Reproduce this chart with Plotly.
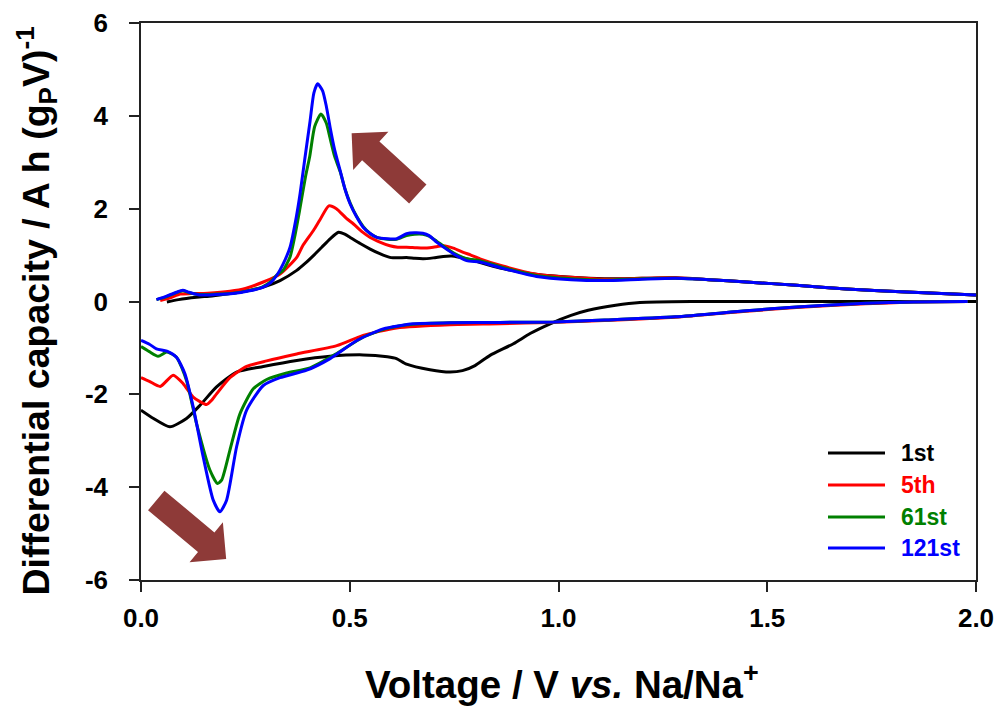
import plotly.graph_objects as go

# ---- data: differential capacity (A h (gP V)^-1) vs voltage (V vs. Na/Na+) ----
CYCLES = ["1st", "5th", "61st", "121st"]
COLORS = ["#000000", "#ff0000", "#008000", "#0000ff"]

# discharge (sodiation) branches
V_DIS_1ST = [0.0, 0.03, 0.069, 0.109, 0.141, 0.181, 0.229, 0.293, 0.373, 0.453, 0.532, 0.59,
             0.612, 0.636, 0.692, 0.74, 0.77, 0.80, 0.836, 0.892, 0.932, 0.98, 1.03, 1.071,
             1.137, 1.195, 1.32, 1.5, 1.7, 2.0]
C_DIS_1ST = [-2.34, -2.52, -2.70, -2.52, -2.24, -1.84, -1.52, -1.40, -1.27, -1.18, -1.15, -1.19,
             -1.23, -1.35, -1.47, -1.52, -1.49, -1.38, -1.16, -0.91, -0.69, -0.48, -0.30, -0.19,
             -0.08, -0.02, 0.0, 0.0, 0.0, 0.0]

V_DIS_5TH = [0.0, 0.02, 0.046, 0.077, 0.101, 0.125, 0.157, 0.170, 0.181, 0.213, 0.253, 0.301,
             0.373, 0.469, 0.532, 0.612, 0.74, 0.86, 0.98, 1.11, 1.28, 1.45, 1.57, 1.735, 1.85, 1.98]
C_DIS_5TH = [-1.64, -1.72, -1.83, -1.59, -1.77, -2.06, -2.22, -2.12, -1.99, -1.64, -1.40, -1.28,
             -1.13, -0.95, -0.73, -0.57, -0.50, -0.48, -0.45, -0.41, -0.34, -0.21, -0.13, -0.05,
             -0.01, 0.0]

V_DIS_61ST = [0.0, 0.02, 0.041, 0.062, 0.085, 0.109, 0.133, 0.165, 0.183, 0.193, 0.213, 0.237,
              0.269, 0.301, 0.349, 0.405, 0.469, 0.532, 0.59, 0.652, 0.74, 0.86, 0.99, 1.11, 1.28,
              1.45, 1.57, 1.735, 1.85, 1.98]
C_DIS_61ST = [-0.97, -1.08, -1.18, -1.09, -1.20, -1.70, -2.63, -3.63, -3.92, -3.85, -3.20, -2.42,
              -1.88, -1.68, -1.54, -1.43, -1.12, -0.77, -0.58, -0.49, -0.46, -0.45, -0.44, -0.40,
              -0.33, -0.20, -0.12, -0.04, -0.01, 0.0]

V_DIS_121ST = [0.0, 0.02, 0.037, 0.062, 0.085, 0.105, 0.125, 0.149, 0.173, 0.189, 0.205, 0.229,
               0.253, 0.293, 0.333, 0.397, 0.453, 0.517, 0.580, 0.652, 0.74, 0.86, 0.99, 1.11,
               1.28, 1.45, 1.57, 1.735, 1.85, 1.98]
C_DIS_121ST = [-0.84, -0.92, -1.02, -1.07, -1.20, -1.55, -2.27, -3.35, -4.28, -4.53, -4.28, -3.13,
               -2.34, -1.81, -1.64, -1.48, -1.23, -0.84, -0.59, -0.48, -0.46, -0.45, -0.44, -0.40,
               -0.33, -0.20, -0.12, -0.04, -0.01, 0.0]

# charge (desodiation) branches
V_CHG_1ST = [0.062, 0.09, 0.133, 0.17, 0.213, 0.25, 0.293, 0.333, 0.373, 0.393, 0.413, 0.433,
             0.453, 0.473, 0.488, 0.501, 0.525, 0.549, 0.572, 0.596, 0.616, 0.636, 0.656, 0.676,
             0.70, 0.724, 0.744, 0.764, 0.79, 0.812, 0.86, 0.95, 1.03, 1.11, 1.2, 1.28, 1.36,
             1.45, 1.57, 1.69, 1.82, 2.0]
C_CHG_1ST = [-0.01, 0.04, 0.09, 0.12, 0.17, 0.22, 0.31, 0.45, 0.67, 0.82, 0.99, 1.17,
             1.35, 1.49, 1.45, 1.38, 1.25, 1.13, 1.03, 0.95, 0.94, 0.95, 0.93, 0.92,
             0.94, 0.97, 0.98, 0.95, 0.90, 0.84, 0.72, 0.58, 0.52, 0.49, 0.50, 0.51, 0.47,
             0.42, 0.35, 0.27, 0.21, 0.14]

V_CHG_5TH = [0.046, 0.07, 0.094, 0.12, 0.16, 0.213, 0.25, 0.293, 0.333, 0.373, 0.388, 0.413,
             0.428, 0.450, 0.468, 0.492, 0.509, 0.53, 0.549, 0.575, 0.596, 0.615, 0.636, 0.656,
             0.676, 0.70, 0.724, 0.748, 0.772, 0.79, 0.812, 0.864, 0.947, 1.03, 1.11, 1.2, 1.28,
             1.36, 1.45, 1.57, 1.69, 1.82, 2.0]
C_CHG_5TH = [0.02, 0.08, 0.16, 0.17, 0.18, 0.22, 0.28, 0.42, 0.59, 0.95, 1.21, 1.53,
             1.75, 2.06, 2.00, 1.79, 1.67, 1.50, 1.38, 1.27, 1.20, 1.17, 1.17, 1.16,
             1.15, 1.17, 1.20, 1.15, 1.06, 1.00, 0.92, 0.77, 0.59, 0.52, 0.48, 0.50, 0.51,
             0.47, 0.42, 0.35, 0.27, 0.21, 0.14]

V_CHG_61ST = [0.037, 0.06, 0.085, 0.10, 0.115, 0.14, 0.18, 0.22, 0.26, 0.29, 0.31, 0.325, 0.34,
              0.357, 0.368, 0.380, 0.394, 0.404, 0.416, 0.431, 0.444, 0.452, 0.464, 0.477, 0.488,
              0.501, 0.516, 0.532, 0.548, 0.565, 0.59, 0.612, 0.636, 0.655, 0.675, 0.69, 0.708,
              0.728, 0.748, 0.78, 0.812, 0.864, 0.947, 1.03, 1.11, 1.2, 1.28, 1.36, 1.45, 1.57,
              1.69, 1.82, 2.0]
C_CHG_61ST = [0.04, 0.10, 0.19, 0.23, 0.19, 0.15, 0.16, 0.18, 0.24, 0.31, 0.42, 0.57, 0.67,
              0.96, 1.39, 1.97, 2.69, 3.12, 3.77, 4.04, 3.84, 3.55, 3.12, 2.80, 2.44,
              2.12, 1.84, 1.62, 1.47, 1.38, 1.34, 1.34, 1.42, 1.45, 1.45, 1.41, 1.30,
              1.17, 1.05, 0.92, 0.88, 0.74, 0.56, 0.49, 0.46, 0.49, 0.50, 0.47, 0.42, 0.35,
              0.27, 0.21, 0.14]

V_CHG_121ST = [0.037, 0.06, 0.085, 0.10, 0.115, 0.14, 0.18, 0.22, 0.26, 0.29, 0.31, 0.325, 0.34,
               0.357, 0.372, 0.381, 0.392, 0.405, 0.414, 0.423, 0.435, 0.444, 0.453, 0.464, 0.477,
               0.488, 0.501, 0.516, 0.532, 0.548, 0.565, 0.59, 0.612, 0.636, 0.655, 0.675, 0.69,
               0.708, 0.728, 0.748, 0.78, 0.812, 0.864, 0.947, 1.03, 1.11, 1.2, 1.28, 1.36, 1.45,
               1.57, 1.69, 1.82, 2.0]
C_CHG_121ST = [0.04, 0.11, 0.20, 0.24, 0.20, 0.14, 0.15, 0.17, 0.23, 0.30, 0.40, 0.56, 0.80,
               1.17, 1.82, 2.32, 3.05, 3.89, 4.49, 4.69, 4.54, 4.20, 3.75, 3.26, 2.82,
               2.44, 2.10, 1.83, 1.60, 1.47, 1.38, 1.35, 1.35, 1.46, 1.48, 1.47, 1.42,
               1.28, 1.15, 1.03, 0.88, 0.85, 0.72, 0.54, 0.47, 0.45, 0.48, 0.50, 0.47, 0.42,
               0.35, 0.27, 0.21, 0.14]

V_DIS = [V_DIS_1ST, V_DIS_5TH, V_DIS_61ST, V_DIS_121ST]
C_DIS = [C_DIS_1ST, C_DIS_5TH, C_DIS_61ST, C_DIS_121ST]
V_CHG = [V_CHG_1ST, V_CHG_5TH, V_CHG_61ST, V_CHG_121ST]
C_CHG = [C_CHG_1ST, C_CHG_5TH, C_CHG_61ST, C_CHG_121ST]

X_RANGE = [0, 2]
Y_RANGE = [-6, 6]
X_TICKS = [0.0, 0.5, 1.0, 1.5, 2.0]
X_TICKTEXT = ["0.0", "0.5", "1.0", "1.5", "2.0"]
Y_TICKS = [-6, -4, -2, 0, 2, 4, 6]
Y_TICKTEXT = ["-6", "-4", "-2", "0", "2", "4", "6"]

# trend arrows (tail -> tip, data coordinates)
ARROW_CHARGE = ((0.663, 2.315), (0.5045, 3.625))
ARROW_DISCHARGE = ((0.0365, -4.287), (0.204, -5.545))
ARROW_COLOR = "#8e3a38"

# ---- page geometry ----
W, H = 999, 711
M_L, M_R, M_T, M_B = 141, 23, 23, 131
PLOT_W = W - M_L - M_R
PLOT_H = H - M_T - M_B
PX_PER_X = PLOT_W / (X_RANGE[1] - X_RANGE[0])
PX_PER_Y = PLOT_H / (Y_RANGE[1] - Y_RANGE[0])

FONT = "Liberation Sans, Arial, sans-serif"

fig = go.Figure()

for name, color, vd, cd, vc, cc in zip(CYCLES, COLORS, V_DIS, C_DIS, V_CHG, C_CHG):
    fig.add_trace(go.Scatter(
        x=vd + [None] + vc,
        y=cd + [None] + cc,
        mode="lines",
        name=name,
        line=dict(color=color, width=3, shape="spline", smoothing=0.6),
        connectgaps=False,
        showlegend=False,
    ))


def block_arrow(tail, tip, shaft_half=12.8, head_half=26.0, head_len=26.0):
    """Filled block arrow built in pixel space, returned as an SVG path in data units."""
    tx, ty = tail[0] * PX_PER_X, tail[1] * PX_PER_Y
    hx, hy = tip[0] * PX_PER_X, tip[1] * PX_PER_Y
    dx, dy = hx - tx, hy - ty
    length = (dx * dx + dy * dy) ** 0.5
    ux, uy = dx / length, dy / length
    nx, ny = -uy, ux
    bx, by = hx - ux * head_len, hy - uy * head_len
    pts = [
        (tx + nx * shaft_half, ty + ny * shaft_half),
        (bx + nx * shaft_half, by + ny * shaft_half),
        (bx + nx * head_half, by + ny * head_half),
        (hx, hy),
        (bx - nx * head_half, by - ny * head_half),
        (bx - nx * shaft_half, by - ny * shaft_half),
        (tx - nx * shaft_half, ty - ny * shaft_half),
    ]
    pts = [(px / PX_PER_X, py / PX_PER_Y) for px, py in pts]
    return "M " + " L ".join(f"{x:.5f},{y:.5f}" for x, y in pts) + " Z"


for tail, tip in (ARROW_CHARGE, ARROW_DISCHARGE):
    fig.add_shape(type="path", xref="x", yref="y", path=block_arrow(tail, tip),
                  fillcolor=ARROW_COLOR, line=dict(width=0), layer="above")

# ---- legend drawn as line samples plus coloured labels ----
LEG_X0, LEG_X1, LEG_TX = 828, 885, 899
LEG_Y = [453, 485, 517, 548]


def px_to_paper_x(px):
    return (px - M_L) / PLOT_W


def px_to_paper_y(py):
    return 1 - (py - M_T) / PLOT_H


for name, color, ly in zip(CYCLES, COLORS, LEG_Y):
    fig.add_shape(type="line", xref="paper", yref="paper",
                  x0=px_to_paper_x(LEG_X0), x1=px_to_paper_x(LEG_X1),
                  y0=px_to_paper_y(ly), y1=px_to_paper_y(ly),
                  line=dict(color=color, width=3))
    fig.add_annotation(xref="paper", yref="paper", x=px_to_paper_x(LEG_TX), y=px_to_paper_y(ly),
                       xanchor="left", yanchor="middle", text=name, showarrow=False,
                       font=dict(family=FONT, size=23, color=color, weight="bold"))

# ---- axis titles ----
fig.add_annotation(xref="paper", yref="paper", x=0.5, y=0, xanchor="center", yanchor="middle",
                   yshift=-102, xshift=3, showarrow=False,
                   text="Voltage / V <i>vs.</i> Na/Na<sup>+</sup>",
                   font=dict(family=FONT, size=38.5, color="#000000", weight="bold"))
fig.add_annotation(xref="paper", yref="paper", x=0, y=0.5, xanchor="center", yanchor="middle",
                   xshift=-105, yshift=-10, textangle=-90, showarrow=False,
                   text="Differential capacity / A h (g<sub>P</sub>V)<sup>-1</sup>",
                   font=dict(family=FONT, size=37.5, color="#000000", weight="bold"))

axis_common = dict(
    showline=True, linecolor="#222222", linewidth=1.6, mirror=True,
    ticks="outside", ticklen=10, tickwidth=1.6, tickcolor="#222222",
    showgrid=False, zeroline=False, automargin=False,
    tickfont=dict(family=FONT, size=26, color="#000000", weight="bold"),
)

fig.update_layout(
    width=W, height=H,
    margin=dict(l=M_L, r=M_R, t=M_T, b=M_B, autoexpand=False),
    paper_bgcolor="#ffffff", plot_bgcolor="#ffffff",
    showlegend=False,
    xaxis=dict(range=X_RANGE, tickvals=X_TICKS, ticktext=X_TICKTEXT, ticklabelstandoff=4,
               **axis_common),
    yaxis=dict(range=Y_RANGE, tickvals=Y_TICKS, ticktext=Y_TICKTEXT, ticklabelstandoff=16,
               **axis_common),
)

fig.write_html("out.html")
